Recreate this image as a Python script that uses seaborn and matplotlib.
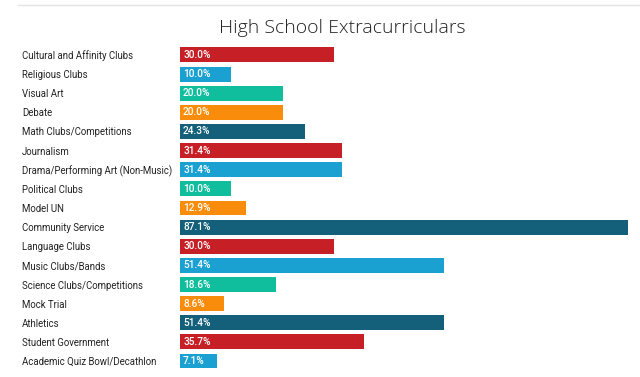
import numpy as np
import matplotlib.pyplot as plt
import seaborn as sns
from matplotlib.lines import Line2D

activities = [
    "Cultural and Affinity Clubs", "Religious Clubs", "Visual Art", "Debate",
    "Math Clubs/Competitions", "Journalism", "Drama/Performing Art (Non-Music)",
    "Political Clubs", "Model UN", "Community Service", "Language Clubs",
    "Music Clubs/Bands", "Science Clubs/Competitions", "Mock Trial",
    "Athletics", "Student Government", "Academic Quiz Bowl/Decathlon",
]
percent = [30.0, 10.0, 20.0, 20.0, 24.3, 31.4, 31.4, 10.0, 12.9, 87.1,
           30.0, 51.4, 18.6, 8.6, 51.4, 35.7, 7.1]
base_colors = ["#C62026", "#1BA1D1", "#10BE9E", "#F98C0A", "#14607A"]
colors = [base_colors[i % 5] for i in range(len(activities))]

sns.set_style("white")
plt.rcParams['font.family'] = ['Roboto', 'DejaVu Sans']

fig = plt.figure(figsize=(6.4, 3.77), dpi=100)
ax = fig.add_axes([180 / 640, 0.017, (628 - 180) / 640, 0.8796 - 0.017])

sns.barplot(x=percent, y=activities, hue=activities, palette=colors,
            legend=False, width=0.78, orient='h', linewidth=0,
            saturation=1, ax=ax)

ax.set_xlim(0, 87.1)
ax.set_ylim(len(activities) - 0.5, -0.5)
ax.set_xticks([])
ax.set_xlabel("")
ax.set_ylabel("")
sns.despine(ax=ax, left=True, bottom=True)

ax.tick_params(axis='y', length=0, pad=(180 - 22) * 0.72, labelsize=6.9, labelcolor='#222222')
for lbl in ax.get_yticklabels():
    lbl.set_horizontalalignment('left')

for i, v in enumerate(percent):
    ax.text(0.6, i, f"{v:.1f}%", color='white', va='center', ha='left',
            fontsize=7.3, fontweight='medium')

fig.text(342 / 640, 1 - 28 / 377, "High School Extracurriculars",
         family=['Open Sans', 'DejaVu Sans'], fontsize=14, fontweight='light',
         ha='center', va='center', color='#222222')

fig.add_artist(Line2D([18 / 640, 1], [1 - 5 / 377, 1 - 5 / 377],
                      color='#e4e4e4', linewidth=1, transform=fig.transFigure))

fig.savefig("out.png", dpi=100)
